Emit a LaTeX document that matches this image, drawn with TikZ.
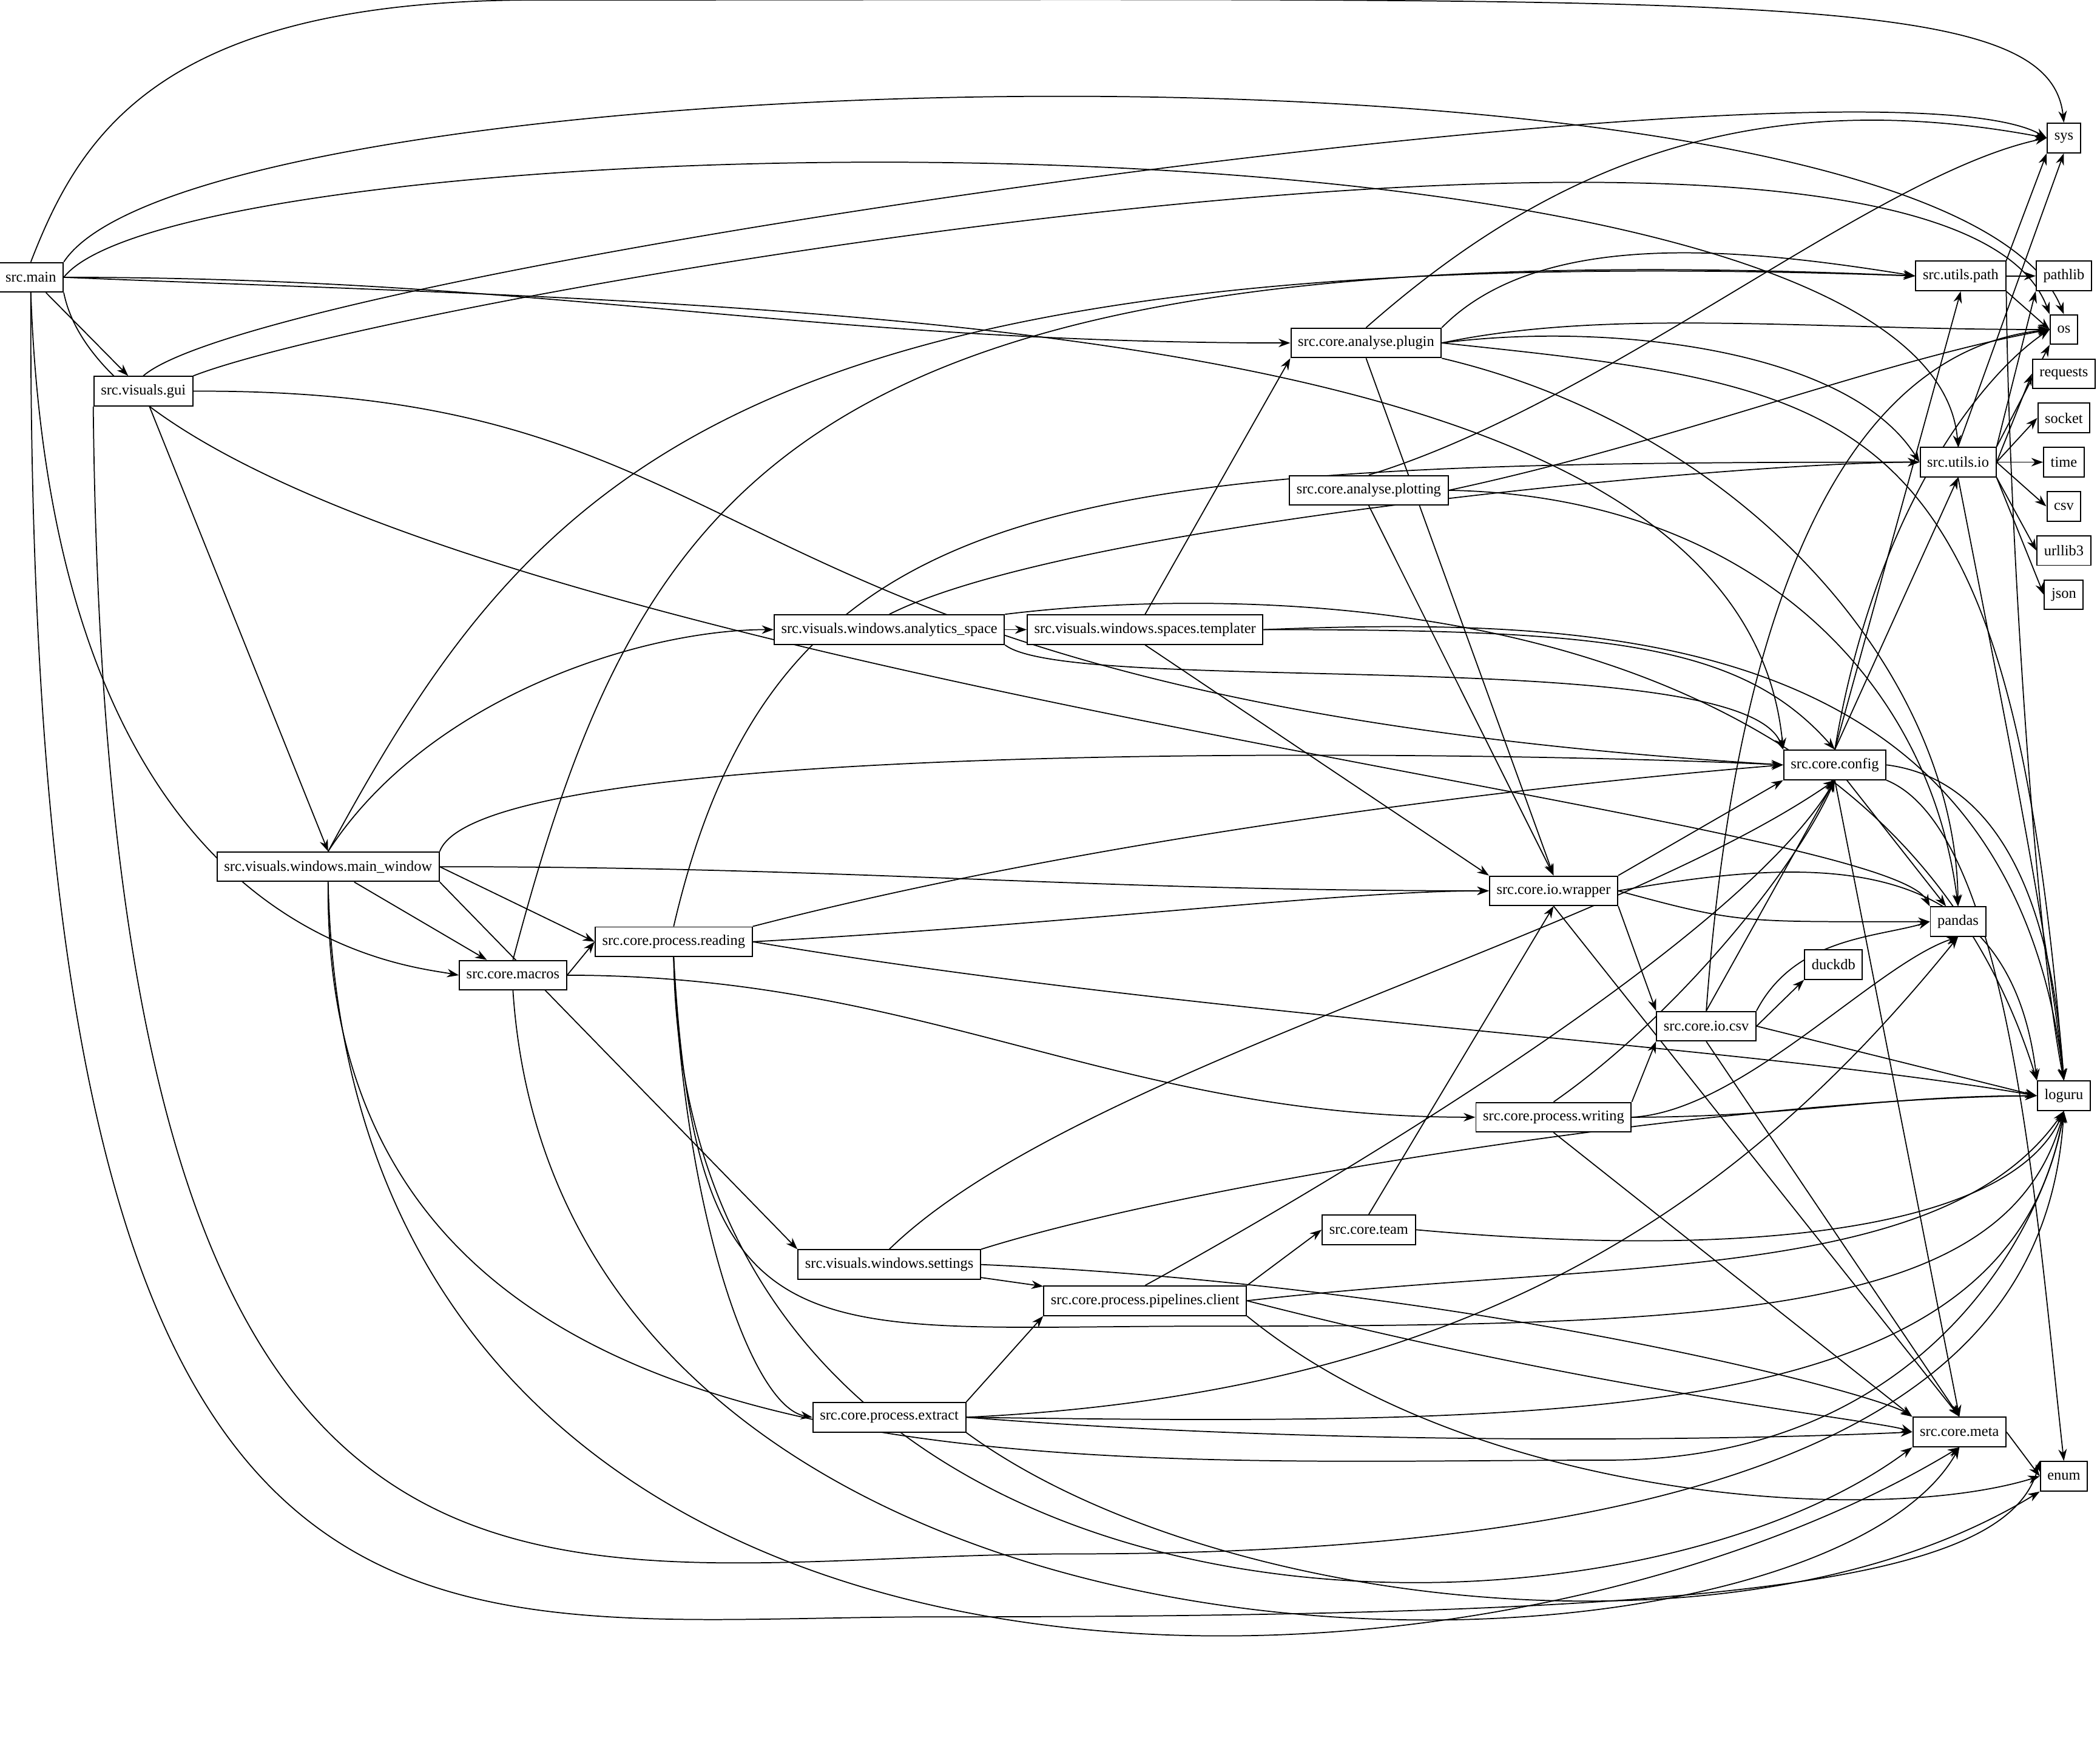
\documentclass[tikz,border=0pt]{standalone}
\usepackage{fontspec}
\setmainfont{Liberation Serif}
\usetikzlibrary{arrows.meta,backgrounds}
\begin{document}
\begin{tikzpicture}[x=0.02cm,y=-0.02cm,
 nd/.style={draw,fill=white,line width=0.5pt,font=\fontsize{6.3}{7}\selectfont,minimum height=0.44cm,inner xsep=3pt,inner ysep=1pt},
 e/.style={-{Stealth[length=5pt,width=3.6pt]},line width=0.45pt},
 lr/.style={e,out=0,in=180}]
\useasboundingbox (0,0) rectangle (1568,1303);
\node[nd] (main) at (23,207) {src.main};
\node[nd] (gui) at (107,292) {src.visuals.gui};
\node[nd] (mw) at (245,647) {src.visuals.windows.main\_window};
\node[nd] (mac) at (383,728) {src.core.macros};
\node[nd] (read) at (503,703) {src.core.process.reading};
\node[nd] (as) at (664,470) {src.visuals.windows.analytics\_space};
\node[nd] (tmpl) at (855,470) {src.visuals.windows.spaces.templater};
\node[nd] (plug) at (1020,256) {src.core.analyse.plugin};
\node[nd] (plot) at (1022,366) {src.core.analyse.plotting};
\node[nd] (set) at (664,944) {src.visuals.windows.settings};
\node[nd] (pcl) at (855,971) {src.core.process.pipelines.client};
\node[nd] (team) at (1022,918) {src.core.team};
\node[nd] (ext) at (664,1058) {src.core.process.extract};
\node[nd] (wri) at (1160,834) {src.core.process.writing};
\node[nd] (wrap) at (1160,665) {src.core.io.wrapper};
\node[nd] (csvm) at (1274,766) {src.core.io.csv};
\node[nd] (conf) at (1370,571) {src.core.config};
\node[nd] (upath) at (1464,206) {src.utils.path};
\node[nd] (uio) at (1462,345) {src.utils.io};
\node[nd] (meta) at (1463,1069) {src.core.meta};
\node[nd] (duck) at (1369,720) {duckdb};
\node[nd] (sys) at (1541,103) {sys};
\node[nd] (pathlib) at (1541,206) {pathlib};
\node[nd] (os) at (1541,246) {os};
\node[nd] (req) at (1541,279) {requests};
\node[nd] (sock) at (1541,312) {socket};
\node[nd] (time) at (1541,345) {time};
\node[nd] (csv) at (1541,378) {csv};
\node[nd] (url) at (1541,411) {urllib3};
\node[nd] (json) at (1541,444) {json};
\node[nd] (pd) at (1462,688) {pandas};
\node[nd] (log) at (1541,818) {loguru};
\node[nd] (enum) at (1541,1102) {enum};
\begin{pgfonlayer}{background}
% src.main
\draw[e] (main.north) .. controls (60,100) and (120,0) .. (400,0) .. controls (1300,0) and (1530,-10) .. (sys.north);
\draw[e] (main.north east) .. controls (150,40) and (1450,10) .. (os.north);
\draw[e] (main.east) .. controls (140,90) and (1440,60) .. (uio.north);
\draw[lr] (main.east) to (plug.west);
\draw[e] (main.east) .. controls (600,230) and (1300,230) .. (conf.north west);
\draw[e] (main) -- (gui);
\draw[e] (main.south) .. controls (40,700) and (300,720) .. (mac.west);
\draw[e] (main.south east) .. controls (100,480) and (1400,600) .. (pd.north west);
\draw[e] (main.south) .. controls (20,1300) and (300,1207) .. (700,1207) .. controls (1300,1207) and (1500,1180) .. (enum.north west);
% gui
\draw[e] (gui.north) .. controls (200,200) and (1400,30) .. (sys.west);
\draw[e] (gui.north east) .. controls (300,220) and (1450,20) .. (os.north west);
\draw[e] (gui.east) .. controls (600,290) and (500,520) .. (conf.west);
\draw[e] (gui) -- (mw.north);
\draw[e] (gui.south west) .. controls (80,1300) and (400,1160) .. (800,1160) .. controls (1400,1160) and (1530,1000) .. (log.south);
% main_window
\draw[e] (mw.north) .. controls (400,350) and (550,175) .. (upath.west);
\draw[e] (mw.north) .. controls (320,520) and (480,470) .. (as.west);
\draw[e] (mw.north east) .. controls (360,550) and (1100,560) .. (conf.west);
\draw[lr] (mw.east) to (wrap.west);
\draw[e] (mw.east) -- (read.west);
\draw[e] (mw) -- (mac);
\draw[e] (mw.south east) -- (set.north west);
\draw[e] (mw.south) .. controls (260,1330) and (1100,1300) .. (meta.south);
\draw[e] (mw.south) .. controls (240,1130) and (800,1090) .. (1200,1090) .. controls (1450,1090) and (1530,900) .. (log.south);
% macros
\draw[e] (mac.east) -- (read.west);
\draw[e] (mac.north) .. controls (480,350) and (600,170) .. (upath.west);
\draw[lr] (mac.east) to (wri.west);
\draw[e] (mac.south) .. controls (420,1300) and (1350,1280) .. (meta.south);
% reading
\draw[e] (read.north) .. controls (580,360) and (800,345) .. (uio.west);
\draw[e] (read.north east) .. controls (800,630) and (1100,590) .. (conf.west);
\draw[e] (read.east) .. controls (800,690) and (1000,665) .. (wrap.west);
\draw[e] (read.east) .. controls (900,760) and (1300,780) .. (log.west);
\draw[e] (read.south) .. controls (510,900) and (560,1050) .. (ext.west);
\draw[e] (read.south) .. controls (510,1250) and (1200,1250) .. (meta.south west);
\draw[e] (read.south) .. controls (520,1020) and (600,990) .. (900,990) .. controls (1300,990) and (1500,980) .. (log.south);
% analytics / templater
\draw[e] (as) -- (tmpl);
\draw[e] (as.north) .. controls (800,390) and (1300,345) .. (uio.west);
\draw[e] (as.north east) .. controls (900,440) and (1400,420) .. (log.north west);
\draw[e] (as.south east) .. controls (800,520) and (1300,480) .. (conf.north west);
\draw[e] (tmpl.north) -- (plug.south west);
\draw[e] (tmpl.south) -- (wrap.north west);
\draw[e] (tmpl.east) .. controls (1200,460) and (1500,470) .. (log.north);
\draw[e] (tmpl.east) .. controls (1200,470) and (1300,480) .. (conf.north);
% plugin / plotting
\draw[e] (plug.north) .. controls (1150,130) and (1300,60) .. (sys.west);
\draw[e] (plug.north east) .. controls (1150,170) and (1300,185) .. (upath.west);
\draw[e] (plug.east) .. controls (1200,230) and (1350,246) .. (os.west);
\draw[e] (plug.east) .. controls (1200,240) and (1380,260) .. (uio.west);
\draw[e] (plug.south) -- (wrap.north);
\draw[e] (plug.south east) .. controls (1300,320) and (1460,500) .. (pd.north);
\draw[e] (plug.east) .. controls (1400,290) and (1500,300) .. (log.north);
\draw[e] (plot.north) .. controls (1200,300) and (1400,130) .. (sys.west);
\draw[e] (plot.east) .. controls (1250,330) and (1400,270) .. (os.west);
\draw[e] (plot.south) -- (wrap.north);
\draw[e] (plot.east) .. controls (1300,370) and (1440,500) .. (pd.north);
% settings, client, team, extract
\draw[e] (set.north) .. controls (800,800) and (1200,700) .. (conf.south);
\draw[e] (set.north east) .. controls (900,880) and (1300,820) .. (log.west);
\draw[e] (set) -- (pcl);
\draw[e] (set.east) .. controls (1100,960) and (1400,1040) .. (meta.north west);
\draw[e] (pcl.north east) -- (team.west);
\draw[e] (pcl.north) .. controls (1000,880) and (1300,700) .. (conf.south);
\draw[e] (pcl.east) .. controls (1200,940) and (1450,960) .. (log.south);
\draw[e] (pcl.east) .. controls (1200,1040) and (1400,1060) .. (meta.west);
\draw[e] (pcl.south east) .. controls (1100,1120) and (1400,1140) .. (enum.west);
\draw[e] (team.north) -- (wrap.south);
\draw[e] (team.east) .. controls (1300,940) and (1500,920) .. (log.south);
\draw[e] (ext.north east) -- (pcl.south west);
\draw[e] (ext.east) .. controls (1100,1040) and (1300,900) .. (pd.south);
\draw[e] (ext.east) .. controls (1200,1065) and (1500,1060) .. (log.south);
\draw[e] (ext.east) .. controls (1000,1080) and (1300,1075) .. (meta.west);
\draw[e] (ext.south east) .. controls (900,1200) and (1300,1250) .. (enum.south west);
% writing, wrapper, csv
\draw[e] (wri.north east) -- (csvm.south west);
\draw[e] (wri.north) .. controls (1250,760) and (1340,650) .. (conf.south);
\draw[e] (wri.east) .. controls (1300,830) and (1400,720) .. (pd.south);
\draw[lr] (wri.east) to (log.west);
\draw[e] (wri.south) -- (meta.north west);
\draw[e] (wrap.north east) -- (conf.south west);
\draw[e] (wrap.east) .. controls (1300,690) and (1300,688) .. (pd.west);
\draw[e] (wrap.east) .. controls (1350,640) and (1500,630) .. (log.north west);
\draw[e] (wrap.south east) -- (csvm.north west);
\draw[e] (wrap.south) -- (meta.north);
\draw[e] (csvm.east) -- (duck.south west);
\draw[e] (csvm.north east) .. controls (1340,700) and (1400,700) .. (pd.west);
\draw[e] (csvm.north) -- (conf.south);
\draw[e] (csvm.east) -- (log.west);
\draw[e] (csvm.south) -- (meta.north);
\draw[e] (csvm.north) .. controls (1300,400) and (1400,260) .. (os.west);
% config
\draw[e] (conf.north) -- (upath.south);
\draw[e] (conf.north) -- (uio.south);
\draw[e] (conf.north) .. controls (1400,380) and (1480,280) .. (os.west);
\draw[e] (conf) -- (pd);
\draw[e] (conf.east) .. controls (1480,580) and (1530,650) .. (log.north);
\draw[e] (conf.south) -- (meta.north);
\draw[e] (conf.south east) .. controls (1500,620) and (1520,900) .. (enum.north);
% utils
\draw[e] (upath.north east) -- (sys.south west);
\draw[e] (upath) -- (pathlib);
\draw[e] (upath.south east) -- (os.west);
\draw[e] (upath.south east) .. controls (1500,400) and (1520,700) .. (log.north);
\draw[e] (uio.north) -- (sys.south);
\draw[e] (uio.north east) -- (pathlib.south west);
\draw[e] (uio.north east) -- (os.south west);
\draw[e] (uio.east) -- (req.west);
\draw[e] (uio.east) -- (sock.west);
\draw[e] (uio) -- (time);
\draw[e] (uio.east) -- (csv.west);
\draw[e] (uio.south east) -- (url.west);
\draw[e] (uio.south east) -- (json.west);
\draw[e] (uio.south) .. controls (1490,500) and (1530,700) .. (log.north);
\draw[e] (meta.east) -- (enum.west);
\end{pgfonlayer}
\end{tikzpicture}
\end{document}
